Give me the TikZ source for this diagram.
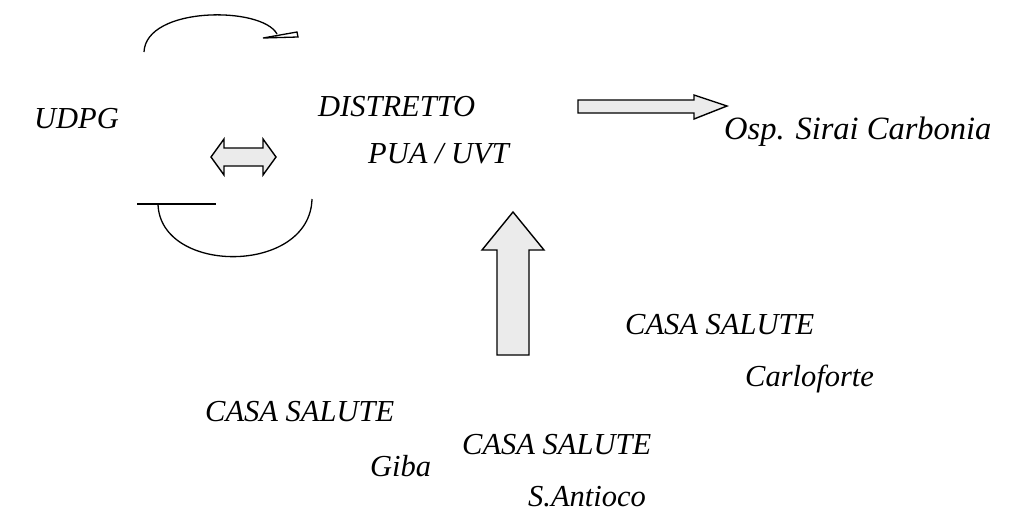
\documentclass[tikz,border=0pt]{standalone}
\usepackage{fontspec}
\setmainfont{Liberation Serif}
\begin{document}
\begin{tikzpicture}[x=1pt,y=-1pt,
  lbl/.style={anchor=base west,inner sep=0pt,font=\fontsize{30.5}{36}\selectfont\itshape},
  fatarrow/.style={draw=black,line width=1.4pt,fill=black!8,line join=miter},
  stroke/.style={draw=black,line width=1.3pt}]
\useasboundingbox[fill=white] (0,0) rectangle (1025,512);
% texts
\node[lbl] (udpg) at (34,128) {UDPG};
\node[lbl] (distr) at (318,116) {DISTRETTO};
\node[lbl] (pua) at (368,163) {PUA / UVT};
\node[lbl,font=\fontsize{32.5}{38}\selectfont\itshape] (osp) at (724,139) {Osp. Sirai Carbonia};
\node[lbl] (csc) at (625,334) {CASA SALUTE};
\node[lbl] (carlo) at (745,386) {Carloforte};
\node[lbl] (csg) at (205,421) {CASA SALUTE};
\node[lbl] (giba) at (370,476) {Giba};
\node[lbl] (css) at (462,454) {CASA SALUTE};
\node[lbl] (sant) at (528,506) {S.Antioco};
% top curved arrow
\draw[stroke] (144,52) .. controls (146,6) and (262,6) .. (277,34);
\draw[stroke,fill=white] (263,38) -- (297,32) -- (298,37) -- cycle;
% bottom curved arrow
\draw[stroke] (137,204) -- (216,204);
\draw[stroke] (158,204) .. controls (160,275) and (310,275) .. (312,199);
% double arrow
\draw[fatarrow] (211,157) -- (224,139) -- (224,148) -- (263,148) -- (263,139) -- (276,157)
  -- (263,175) -- (263,166) -- (224,166) -- (224,175) -- cycle;
% right arrow
\draw[fatarrow] (578,100) -- (694,100) -- (694,95) -- (727,106) -- (694,119) -- (694,113) -- (578,113) -- cycle;
% up arrow
\draw[fatarrow] (497,355) -- (497,250) -- (482,250) -- (513,212) -- (544,250) -- (529,250) -- (529,355) -- cycle;
\end{tikzpicture}
\end{document}
